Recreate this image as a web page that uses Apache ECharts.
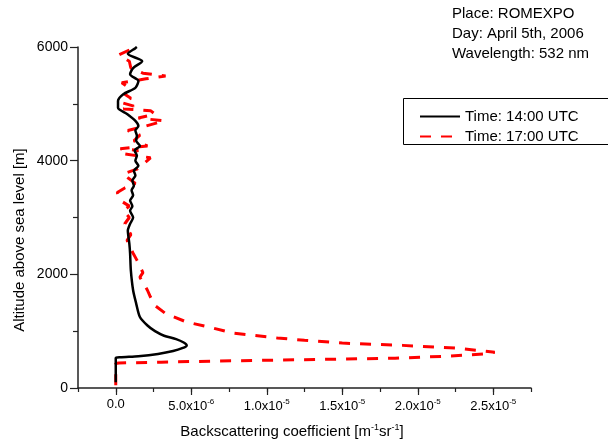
<!DOCTYPE html>
<html lang="en">
<head>
    <meta charset="UTF-8">
    <title>Backscattering profile</title>
    <script src="https://cdn.jsdelivr.net/npm/echarts@6/dist/echarts.min.js"></script>
    <style>
        body{ margin: 0; background: #fff; }
        #chart{ width: 608px; height: 446px; }
    </style>
</head>
<body>
    <div id="chart"></div>
    <script>
        // values in units of 1e-6 m^-1 sr^-1, altitude in m
        var blackAlt = [100, 526, 540, 560, 600, 650, 700, 750, 800, 860, 920, 1000, 1100, 1250, 1490, 1720, 2070, 2370, 2540, 2770, 2890, 3000, 3120, 3200, 3300, 3390, 3480, 3560, 3650, 3740, 3820, 3910, 4000, 4090, 4180, 4260, 4350, 4440, 4530, 4610, 4700, 4820, 4930, 5050, 5170, 5280, 5400, 5520, 5630, 5750, 5880, 5980, 6000];
        var blackVal = [0, 0, 0.3, 1.5, 2.8, 3.8, 4.4, 4.7, 4.5, 4.0, 3.2, 2.6, 2.1, 1.6, 1.35, 1.15, 1.0, 0.95, 0.9, 0.8, 0.95, 1.15, 0.95, 1.1, 0.95, 1.15, 1.05, 1.2, 1.1, 1.3, 1.2, 1.5, 1.3, 1.4, 1.25, 1.6, 1.35, 1.4, 1.3, 1.5, 1.3, 0.75, 0.15, 0.15, 0.5, 1.3, 1.5, 0.95, 1.15, 1.75, 0.8, 1.3, 1.4];

        var redAlt = [50, 260, 430, 440, 455, 475, 492, 510, 525, 560, 600, 630, 660, 700, 750, 790, 840, 880, 965, 1070, 1160, 1310, 1450, 1600, 1720, 1950, 2030, 2250, 2370, 2500, 2600, 2700, 2890, 3000, 3120, 3200, 3300, 3440, 3520, 3600, 3700, 3770, 3850, 3910, 4050, 4120, 4180, 4210, 4260, 4350, 4450, 4530, 4610, 4700, 4750, 4820, 4880, 4910, 4960, 5020, 5100, 5170, 5280, 5370, 5440, 5490, 5540, 5630, 5750, 5860, 5960, 6000];
        var redVal = [0, 0, 0, 0.2, 3, 6.8, 11, 15.3, 18.5, 22, 24.5, 25.1, 24, 22.6, 19, 15, 12.5, 10.7, 7.8, 6.2, 4.7, 3.3, 2.6, 2.3, 2.1, 1.6, 1.8, 1.4, 1.15, 0.9, 0.75, 1.0, 0.6, 0.9, 0.5, 0.9, 0.3, 0.1, 0.6, 1.3, 0.8, 0.5, 1.4, 1.7, 2.3, 0.6, 1.5, 0.3, 2.1, 1.2, 1.6, 0.8, 2.0, 3.2, 1.5, 2.6, 2.3, 0.5, 1.2, 0.4, 1.0, 0.6, 0.9, 0.4, 2.0, 3.3, 1.8, 1.0, 0.9, 0.2, 1.0, 1.3];

        var xTickVals = [0, 5e-6, 1e-5, 1.5e-5, 2e-5, 2.5e-5];
        var xTickLabels = ['0.0', '5.0x10|-6', '1.0x10|-5', '1.5x10|-5', '2.0x10|-5', '2.5x10|-5'];
        var infoLines = ['Place: ROMEXPO', 'Day: April 5th, 2006', 'Wavelength: 532 nm'];
        var seriesNames = ['Time: 14:00 UTC', 'Time: 17:00 UTC'];

        function pairs(vals, alts){
            var out = [];
            for (var i = 0; i < vals.length; i++) out.push([vals[i] * 1e-6, alts[i]]);
            return out;
        }

        var font = 'Arial, "Liberation Sans", sans-serif';
        var axisCol = '#222';

        var myChart = echarts.init(document.getElementById('chart'));
        var option = {
            animation: false,
            textStyle: { fontFamily: font },
            grid: { left: 78, top: 47, right: 77, bottom: 58 },
            xAxis: [{
                type: 'value',
                min: -2.5e-6,
                max: 2.75e-5,
                interval: 2.5e-6,
                splitLine: { show: false },
                axisLine: { show: true, onZero: false, lineStyle: { color: axisCol, width: 1.5 } },
                axisTick: { show: true, length: 4, lineStyle: { color: axisCol, width: 1.2 } },
                axisLabel: {
                    color: '#000',
                    margin: 10,
                    formatter: function (v) {
                        for (var i = 0; i < xTickVals.length; i++) {
                            if (Math.abs(v - xTickVals[i]) < 1e-9) {
                                var p = xTickLabels[i].split('|');
                                return p.length > 1 ? '{b|' + p[0] + '}{s|' + p[1] + '}' : '{b|' + p[0] + '}';
                            }
                        }
                        return '';
                    },
                    rich: {
                        b: { fontSize: 13, fontFamily: font, color: '#000' },
                        s: { fontSize: 8, fontFamily: font, color: '#000', verticalAlign: 'top', padding: [0, 0, 8, 0] }
                    }
                }
            }, {
                type: 'value',
                position: 'bottom',
                min: -2.5e-6,
                max: 2.75e-5,
                axisLine: { show: false, onZero: false },
                splitLine: { show: false },
                axisLabel: { show: false },
                axisTick: { show: true, length: 7, customValues: xTickVals, lineStyle: { color: axisCol, width: 1.2 } }
            }],
            yAxis: {
                type: 'value',
                min: 0,
                max: 6000,
                interval: 2000,
                splitLine: { show: false },
                axisLine: { show: true, onZero: false, lineStyle: { color: axisCol, width: 1.5 } },
                axisTick: { show: true, length: 8, lineStyle: { color: axisCol, width: 1.2 } },
                minorTick: { show: true, splitNumber: 2, length: 5, lineStyle: { color: axisCol, width: 1.2 } },
                axisLabel: { color: '#000', fontSize: 14, margin: 10, formatter: function (v) { return String(v); } }
            },
            legend: {
                orient: 'vertical',
                left: 414,
                top: 104,
                itemWidth: 40,
                itemHeight: 10,
                itemGap: 5,
                data: seriesNames,
                itemStyle: { opacity: 0 },
                textStyle: { fontSize: 15, color: '#000', fontFamily: font }
            },
            graphic: [
                {
                    type: 'rect',
                    shape: { x: 403.5, y: 98.5, width: 215, height: 46 },
                    style: { fill: 'none', stroke: '#000', lineWidth: 1 },
                    z: 0
                },
                {
                    type: 'text',
                    left: 452,
                    top: 4,
                    style: { text: infoLines.join('\n'), fontSize: 15, lineHeight: 20, fill: '#000', font: '15px ' + font }
                },
                {
                    type: 'text',
                    x: 20,
                    y: 240,
                    rotation: Math.PI / 2,
                    style: { text: 'Altitude above sea level [m]', fill: '#000', font: '15px ' + font, align: 'center', verticalAlign: 'middle' }
                },
                {
                    type: 'text',
                    x: 292,
                    y: 432,
                    style: {
                        text: '{t|Backscattering coefficient [m}{s|-1}{t|sr}{s|-1}{t|]}',
                        align: 'center',
                        verticalAlign: 'middle',
                        rich: {
                            t: { fontSize: 15, fontFamily: font, fill: '#000' },
                            s: { fontSize: 9, fontFamily: font, fill: '#000', verticalAlign: 'top', padding: [0, 0, 8, 0] }
                        }
                    }
                }
            ],
            series: [
                {
                    name: seriesNames[0],
                    type: 'line',
                    data: pairs(blackVal, blackAlt),
                    showSymbol: false,
                    symbol: 'none',
                    smooth: 0.25,
                    lineStyle: { color: '#000', width: 2.5 },
                    itemStyle: { color: '#000' },
                    z: 3
                },
                {
                    name: seriesNames[1],
                    type: 'line',
                    data: pairs(redVal, redAlt),
                    showSymbol: false,
                    symbol: 'none',
                    lineStyle: { color: '#ff0000', width: 3, type: [11, 10] },
                    itemStyle: { color: '#ff0000' },
                    z: 2
                }
            ]
        };
        myChart.setOption(option);
    </script>
</body>
</html>
